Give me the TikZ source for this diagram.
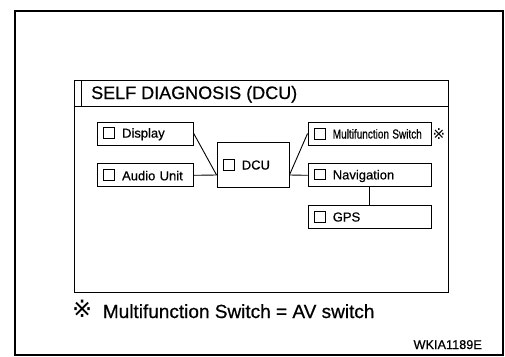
\documentclass[tikz,border=0pt]{standalone}
\usepackage{fontspec}
\setmainfont{Liberation Sans}[UprightFeatures={FakeBold=0.6}]
\newfontfamily\dv{DejaVu Sans}
\usetikzlibrary{calc}
\newcommand{\cbx}{{\setlength\fboxsep{0pt}\setlength\fboxrule{0.9pt}\fbox{\rule{0pt}{10pt}\rule{10pt}{0pt}}}\hspace{7pt}}
\tikzset{
  unitbox/.style={draw, line width=0.9pt, inner xsep=6pt, inner ysep=0pt, minimum height=23pt, align=left, font=\fontsize{13}{15}\selectfont},
  wire/.style={line width=0.9pt}
}
\begin{document}
\begin{tikzpicture}[x=1pt,y=-1pt]
\useasboundingbox (0,0) rectangle (505,356);
\draw[line width=2pt] (15,11) rectangle (503,355);
\draw[line width=1.5pt] (74.7,80.7) rectangle (448.3,292.3);
\draw[line width=1.2pt] (74.7,106.7) -- (448.3,106.7);
\draw[line width=1.2pt] (81.7,80.7) -- (81.7,106.7);
\node[anchor=base west, inner sep=0pt, font=\fontsize{18}{20}\selectfont] (title) at (91,99) {SELF DIAGNOSIS (DCU)};

\node[unitbox, text width=84pt] (disp) at (145.3,133.5) {\mbox{\cbx Display}};
\node[unitbox, text width=84pt] (audio) at (145.3,175.3) {\mbox{\cbx Audio Unit}};
\node[unitbox, text width=60pt, minimum height=45pt] (dcu) at (253,164.5) {\mbox{\cbx DCU}};
\node[unitbox, text width=111pt] (multi) at (369.5,133.5) {\mbox{\cbx\scalebox{0.77}[1]{Multifunction Switch}}};
\node[unitbox, text width=111pt] (nav) at (369.5,175.3) {\mbox{\cbx Navigation}};
\node[unitbox, text width=111pt] (gps) at (369.5,216.5) {\mbox{\cbx GPS}};
\node[anchor=west, inner sep=0pt, font=\dv\fontsize{15}{16}\selectfont] (star) at (432.5,134) {※};

\coordinate (dl) at ($(dcu.west)+(0,10.5)$);
\coordinate (dr) at ($(dcu.east)+(0,10.5)$);
\draw[wire] (disp.east) -- (dl);
\draw[wire] (audio.east) -- (dl);
\draw[wire] (multi.west) -- (dr);
\draw[wire] (nav.west) -- (dr);
\draw[wire] (nav.south) -- (gps.north);

\node[anchor=base west, inner sep=0pt, font=\dv\fontsize{24}{26}\selectfont] (fstar) at (72,317) {※};
\node[anchor=base west, inner sep=0pt, font=\fontsize{19}{21}\selectfont] (fnote) at (102.7,318) {Multifunction Switch = AV switch};
\node[anchor=base east, inner sep=0pt, font=\fontsize{12.7}{14}\selectfont] (code) at (482,349) {WKIA1189E};
\end{tikzpicture}
\end{document}
